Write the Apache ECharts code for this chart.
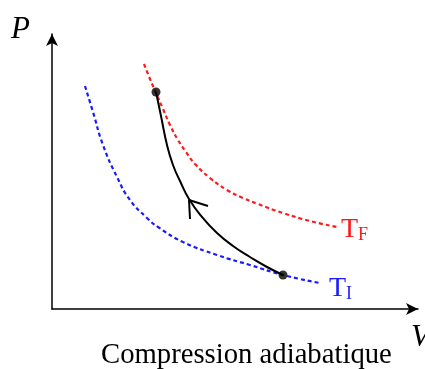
<!DOCTYPE html>
<html>
<head>
<meta charset="utf-8">
<script src="https://cdn.jsdelivr.net/npm/echarts@6/dist/echarts.min.js"></script>
<style>
  html, body { margin: 0; padding: 0; background: #fff; }
  #chart { width: 425px; height: 369px; }
</style>
</head>
<body>
<div id="chart"></div>
<script>
const isoTF = [[92, 245], [98, 230], [104, 216], [111, 200], [118, 184], [126, 169], [134, 157],
  [143, 145], [158, 131], [175, 119], [191, 111], [206, 105], [231, 96], [258, 88], [285, 82]]
const isoTI = [[33, 223], [41, 197], [51, 164], [65, 132], [78, 109], [95, 91], [106, 82],
  [131, 67], [165, 54], [198, 44], [231, 34], [268, 26]]
const adiabat = [[104, 217], [109, 193], [115, 164], [121, 144], [128, 128], [137, 110], [150, 92],
  [165, 76], [181, 63], [198, 52], [215, 42], [231, 34]]
const states = [[104, 217], [231, 34]]
// pointe de flèche ouverte sur l'adiabatique
const arrowHead = [[156, 103], [137, 109], [138, 90]]

const serif = '"Liberation Serif", "DejaVu Serif", serif'

function subLabel(main, sub, color) {
    return {
        show: true,
        formatter: '{t|' + main + '}{s|' + sub + '}',
        rich: {
            t: { fontSize: 28, lineHeight: 30, fontFamily: serif, color: color, verticalAlign: 'bottom' },
            s: { fontSize: 18, lineHeight: 12, fontFamily: serif, color: color, verticalAlign: 'bottom' }
        }
    }
}

let myChart = echarts.init(document.getElementById('chart'))

let option = {
    animation: false,
    title: {
        text: 'Compression adiabatique',
        left: 101,
        top: 341,
        padding: 0,
        textStyle: { fontFamily: serif, fontSize: 28.7, fontWeight: 'normal', color: '#000' }
    },
    grid: { left: 52, right: 7, top: 34, bottom: 60 },
    xAxis: {
        type: 'value',
        min: 0,
        max: 366,
        axisLine: { show: true, symbol: ['none', 'arrow'], symbolSize: [9, 12], lineStyle: { color: '#000', width: 1.5 } },
        axisTick: { show: false },
        axisLabel: { show: false },
        splitLine: { show: false }
    },
    yAxis: {
        type: 'value',
        min: 0,
        max: 275,
        axisLine: { show: true, symbol: ['none', 'arrow'], symbolSize: [9, 12], lineStyle: { color: '#000', width: 1.5 } },
        axisTick: { show: false },
        axisLabel: { show: false },
        splitLine: { show: false }
    },
    graphic: [
        { type: 'text', left: 11, top: 14, style: { text: 'P', font: 'italic 31px ' + serif, fill: '#000' } },
        { type: 'text', left: 411, top: 322, style: { text: 'V', font: 'italic 31px ' + serif, fill: '#000' } }
    ],
    series: [
        {
            name: 'TF',
            type: 'line',
            data: isoTF,
            smooth: 0.5,
            showSymbol: false,
            lineStyle: { color: '#ff1a1a', width: 2.2, type: [4, 3] },
            endLabel: Object.assign(subLabel('T', 'F', '#ff1a1a'), { distance: 4, offset: [0, 2] })
        },
        {
            name: 'TI',
            type: 'line',
            data: isoTI,
            smooth: 0.5,
            showSymbol: false,
            lineStyle: { color: '#1a1aff', width: 2.2, type: [4, 3] },
            endLabel: Object.assign(subLabel('T', 'I', '#1a1aff'), { distance: 9, offset: [0, 5] })
        },
        {
            name: 'adiabatique',
            type: 'line',
            data: adiabat,
            smooth: 0.5,
            showSymbol: false,
            lineStyle: { color: '#000', width: 2 }
        },
        {
            name: 'fleche',
            type: 'line',
            data: arrowHead,
            showSymbol: false,
            lineStyle: { color: '#000', width: 2 }
        },
        {
            name: 'etats',
            type: 'scatter',
            data: states,
            symbolSize: 9,
            itemStyle: { color: '#000' },
            z: 5
        }
    ]
}

myChart.setOption(option)
</script>
</body>
</html>
